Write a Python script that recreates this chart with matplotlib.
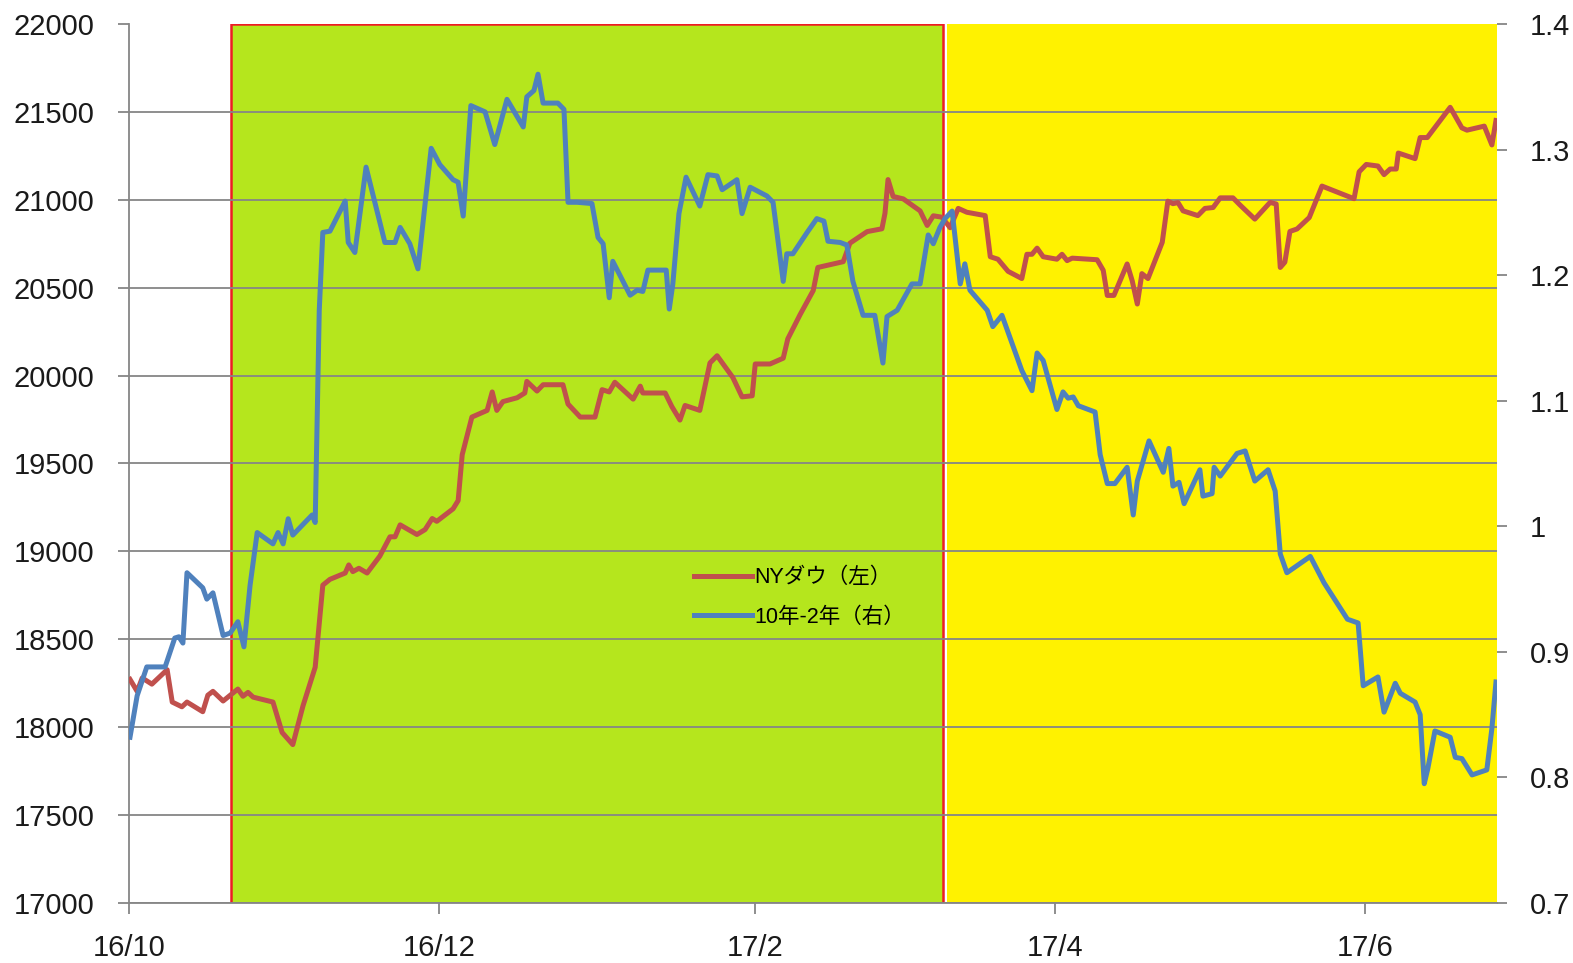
import pandas as pd
import matplotlib
matplotlib.use("Agg")
from matplotlib import pyplot as plt

plt.rcParams['font.family'] = ['Liberation Sans', 'Noto Sans CJK JP', 'DejaVu Sans']

# days counted from 2016-10-01
start = pd.Timestamp('2016-10-01')

dow_days = [0.2, 1.6, 2.6, 4.5, 7.5, 8.5, 10.4, 11.4, 14.5, 15.5, 16.5, 18.5, 21.4, 22.4, 23.4, 24.4,
            28.3, 30.1, 32.2, 34.2, 36.6, 38.1, 39.5, 42.5, 43.2, 44.0, 45.2, 46.8, 49.3, 51.3, 52.3,
            53.3, 56.6, 58.2, 59.6, 60.5, 63.7, 64.7, 65.5, 67.4, 70.4, 71.4, 72.3, 73.5, 76.3, 77.8,
            78.2, 80.2, 81.4, 85.3, 86.3, 88.7, 91.6, 93.0, 94.4, 95.5, 99.1, 100.5, 101.0, 105.4,
            106.7, 108.3, 109.3, 112.2, 114.2, 115.6, 118.7, 120.5, 122.5, 123.1, 126.0, 128.6, 129.5,
            131.9, 134.5, 135.4, 138.4, 140.4, 141.7, 145.1, 148.0, 148.6, 149.2, 150.2, 152.2, 155.5,
            156.9, 158.1, 159.8, 161.4, 163.0, 164.7, 168.3, 169.3, 170.8, 172.8, 175.5, 176.5, 177.5,
            178.5, 179.7, 182.4, 183.4, 184.4, 185.4, 190.3, 191.5, 192.3, 193.6, 196.2, 197.2, 198.2,
            199.1, 200.3, 203.1, 204.2, 205.2, 206.2, 207.2, 210.1, 211.5, 213.1, 214.5, 217.0, 218.4,
            221.3, 224.3, 225.5, 226.3, 227.2, 228.2, 229.6, 232.0, 234.5, 240.8, 241.8, 243.2, 245.5,
            246.7, 247.9, 249.1, 249.5, 252.8, 253.8, 255.2, 259.7, 262.0, 263.0, 266.4, 267.9, 268.7]
dow_values = [18272, 18204, 18280, 18245, 18327, 18143, 18116, 18143, 18088, 18182, 18204, 18149, 18217,
              18176, 18198, 18171, 18143, 17970, 17901, 18121, 18341, 18808, 18841, 18877, 18923, 18885,
              18904, 18877, 18973, 19083, 19083, 19151, 19096, 19124, 19187, 19171, 19242, 19289, 19550,
              19764, 19802, 19907, 19802, 19852, 19874, 19901, 19967, 19912, 19948, 19948, 19838, 19764,
              19764, 19920, 19907, 19962, 19866, 19940, 19901, 19901, 19824, 19747, 19830, 19802, 20072,
              20113, 19989, 19879, 19885, 20066, 20066, 20099, 20209, 20346, 20484, 20615, 20635, 20648,
              20753, 20819, 20835, 20923, 21115, 21019, 21005, 20937, 20854, 20909, 20901, 20841, 20951,
              20929, 20910, 20676, 20662, 20593, 20552, 20690, 20690, 20725, 20676, 20662, 20690, 20654,
              20668, 20659, 20599, 20456, 20456, 20635, 20539, 20407, 20580, 20552, 20758, 20992, 20978,
              20984, 20937, 20910, 20951, 20956, 21011, 21011, 20970, 20890, 20985, 20976, 20615, 20645,
              20820, 20834, 20899, 21078, 21006, 21159, 21201, 21192, 21143, 21175, 21175, 21266, 21234,
              21354, 21354, 21526, 21409, 21396, 21419, 21312, 21451]

spread_days = [0.2, 1.6, 3.5, 7.1, 9.0, 9.8, 10.6, 11.4, 14.5, 15.3, 16.5, 18.5, 19.9, 21.4, 22.6, 23.8,
               25.2, 28.3, 29.3, 30.3, 31.3, 32.2, 36.0, 36.6, 37.4, 38.1, 39.5, 42.5, 43.1, 44.4, 46.6,
               50.3, 52.3, 53.3, 55.2, 56.8, 59.4, 61.1, 63.7, 64.7, 65.7, 67.2, 70.0, 71.9, 74.3, 77.5,
               78.2, 79.6, 80.4, 81.4, 84.3, 85.5, 86.3, 88.1, 91.0, 92.2, 93.2, 94.4, 95.1, 98.5, 99.9,
               101.0, 102.0, 105.6, 106.2, 106.9, 108.1, 109.5, 112.2, 113.8, 115.6, 116.6, 119.5, 120.5,
               122.1, 125.4, 126.6, 128.6, 129.3, 130.5, 133.3, 135.2, 136.6, 137.4, 139.8, 141.1, 142.3,
               144.3, 146.6, 148.2, 149.0, 151.0, 153.9, 155.5, 157.1, 158.1, 159.4, 160.4, 161.8, 163.4,
               164.3, 165.3, 168.7, 169.8, 171.6, 175.5, 177.5, 178.5, 179.7, 182.4, 183.6, 184.6, 185.6,
               186.6, 189.9, 190.9, 192.3, 193.8, 196.2, 197.4, 198.2, 200.5, 203.3, 204.4, 205.2, 206.4,
               207.4, 210.5, 211.1, 212.9, 213.3, 214.5, 217.8, 219.4, 221.3, 223.9, 225.3, 226.3, 227.6,
               232.2, 234.9, 239.5, 241.6, 242.6, 245.5, 246.7, 248.9, 249.9, 252.8, 253.8, 254.6, 255.3,
               256.7, 259.7, 260.7, 262.0, 264.0, 266.9, 267.9, 268.7]
spread_values = [0.832, 0.865, 0.888, 0.888, 0.911, 0.912, 0.907, 0.963, 0.951, 0.942, 0.947, 0.913, 0.915,
                 0.924, 0.904, 0.953, 0.995, 0.986, 0.995, 0.986, 1.006, 0.993, 1.009, 1.003, 1.172, 1.234,
                 1.235, 1.259, 1.226, 1.218, 1.286, 1.226, 1.226, 1.238, 1.225, 1.205, 1.301, 1.288, 1.276,
                 1.274, 1.247, 1.335, 1.330, 1.304, 1.340, 1.318, 1.342, 1.347, 1.360, 1.337, 1.337, 1.332,
                 1.258, 1.258, 1.257, 1.230, 1.225, 1.182, 1.211, 1.184, 1.188, 1.187, 1.204, 1.204, 1.173,
                 1.193, 1.249, 1.278, 1.255, 1.280, 1.279, 1.268, 1.276, 1.249, 1.270, 1.263, 1.258, 1.195,
                 1.217, 1.217, 1.234, 1.245, 1.243, 1.227, 1.226, 1.224, 1.195, 1.168, 1.168, 1.130, 1.167,
                 1.172, 1.193, 1.193, 1.232, 1.225, 1.238, 1.245, 1.251, 1.193, 1.209, 1.188, 1.172, 1.159,
                 1.168, 1.124, 1.108, 1.138, 1.132, 1.093, 1.107, 1.102, 1.103, 1.096, 1.091, 1.057, 1.034,
                 1.034, 1.047, 1.009, 1.036, 1.068, 1.043, 1.062, 1.032, 1.035, 1.018, 1.045, 1.024, 1.026,
                 1.047, 1.040, 1.058, 1.060, 1.036, 1.045, 1.028, 0.978, 0.963, 0.976, 0.955, 0.926, 0.923,
                 0.873, 0.880, 0.852, 0.875, 0.867, 0.860, 0.850, 0.795, 0.807, 0.837, 0.832, 0.816, 0.815,
                 0.802, 0.806, 0.839, 0.876]

tick_dates = ['2016-10-01', '2016-12-01', '2017-02-01', '2017-04-01', '2017-06-01']
tick_labels = ['16/10', '16/12', '17/2', '17/4', '17/6']
left_ticks = [17000, 17500, 18000, 18500, 19000, 19500, 20000, 20500, 21000, 21500, 22000]
right_ticks = [0.7, 0.8, 0.9, 1.0, 1.1, 1.2, 1.3, 1.4]
right_labels = ['0.7', '0.8', '0.9', '1', '1.1', '1.2', '1.3', '1.4']

green_period = ('2016-10-21', '2017-03-10')
yellow_period = ('2017-03-10 18:00', '2017-06-27')

dow_x = start + pd.to_timedelta(dow_days, unit='D')
spread_x = start + pd.to_timedelta(spread_days, unit='D')

fig = plt.figure(figsize=(15.73, 9.63), dpi=100)
ax = fig.add_axes([0.082, 0.0623, 0.870, 0.9128])
ax2 = ax.twinx()

ax.axvspan(pd.Timestamp(green_period[0]), pd.Timestamp(green_period[1]),
           facecolor='#B5E61D', edgecolor='#ED1C24', linewidth=1.8, zorder=0.1)
ax.axvspan(pd.Timestamp(yellow_period[0]), pd.Timestamp(yellow_period[1]),
           facecolor='#FFF200', edgecolor='none', zorder=0.1)

red = '#C0504D'
blue = '#4F81BD'
l1, = ax.plot(dow_x, dow_values, color=red, lw=3.6, label='NYダウ（左）', zorder=3,
              solid_joinstyle='round')
l2, = ax2.plot(spread_x, spread_values, color=blue, lw=3.6, label='10年-2年（右）', zorder=3,
               solid_joinstyle='round')

ax.set_xlim(start, pd.Timestamp(yellow_period[1]))
ax.set_ylim(17000, 22000)
ax2.set_ylim(0.7, 1.4)

ax.set_yticks(left_ticks)
ax.set_yticklabels([str(v) for v in left_ticks])
ax2.set_yticks(right_ticks)
ax2.set_yticklabels(right_labels)
ax.set_xticks([pd.Timestamp(d) for d in tick_dates])
ax.set_xticklabels(tick_labels)

ax.set_axisbelow(True)
ax.grid(axis='y', color='#868686', lw=1.3, zorder=0.5)
ax.grid(axis='x', visible=False)
ax.yaxis.get_gridlines()[-1].set_visible(False)

for a in (ax, ax2):
    a.spines['top'].set_visible(False)
    a.spines['right'].set_visible(False)
ax2.spines['left'].set_visible(False)
ax2.spines['bottom'].set_visible(False)
ax.spines['left'].set_color('#868686')
ax.spines['bottom'].set_color('#868686')
ax.spines['left'].set_linewidth(1.3)
ax.spines['bottom'].set_linewidth(1.3)

ax.tick_params(axis='y', length=8, width=1.3, color='#868686', pad=17, labelsize=21, labelcolor='#1a1a1a')
ax.tick_params(axis='x', length=8, width=1.3, color='#868686', pad=14, labelsize=21, labelcolor='#1a1a1a')
ax2.tick_params(axis='y', length=7, width=1.3, color='#868686', pad=16, labelsize=21, labelcolor='#1a1a1a')

ax2.legend(handles=[l1, l2], loc='upper left', bbox_to_anchor=(0.413, 0.382), frameon=False,
           fontsize=15.5, handlelength=2.7, handletextpad=0.1, labelspacing=0.85, borderpad=0,
           borderaxespad=0)

fig.savefig('out.png', dpi=100)
